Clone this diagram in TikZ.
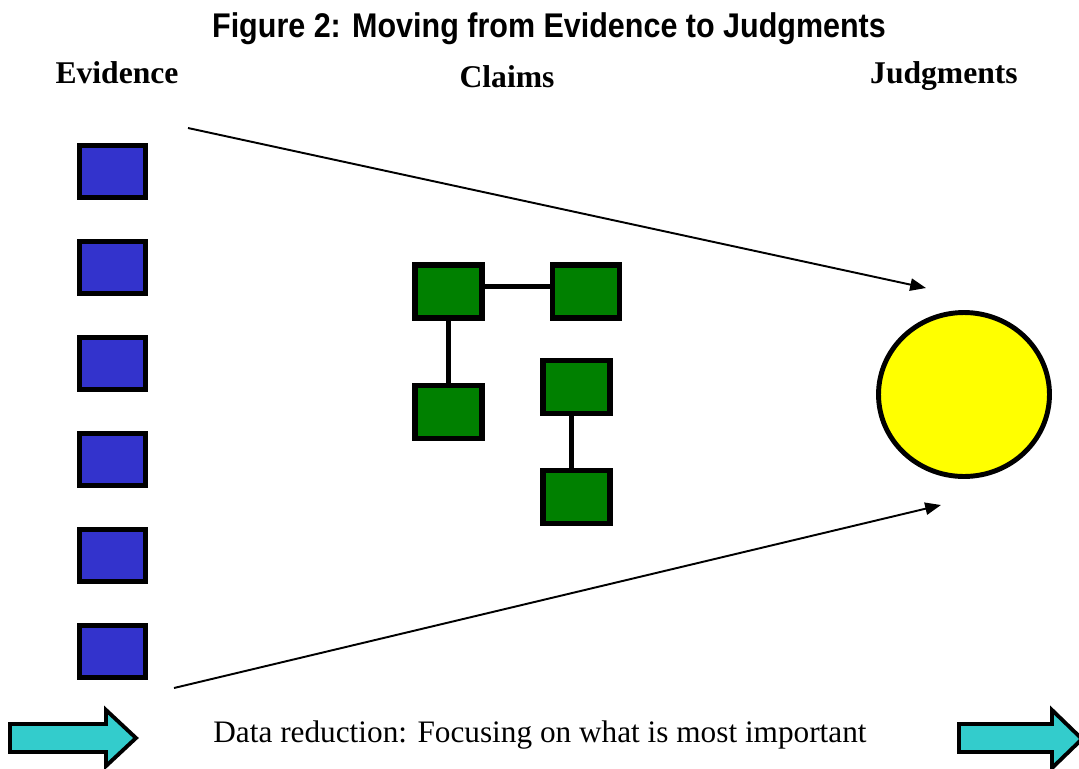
\documentclass[tikz,border=0pt]{standalone}
\usepackage{fontspec}
\setmainfont{Liberation Serif}
\newfontfamily\titlefont[FakeStretch=0.89]{Liberation Sans}
\usetikzlibrary{arrows.meta,shapes.geometric}
\definecolor{evblue}{RGB}{51,51,204}
\definecolor{claimgreen}{RGB}{0,128,0}
\definecolor{judgyellow}{RGB}{255,255,0}
\definecolor{flowteal}{RGB}{51,204,204}

\begin{document}
\begin{tikzpicture}[x=0.02cm,y=-0.02cm,
    evbox/.style={draw,line width=3pt,fill=evblue,minimum width=1.32cm,minimum height=1.04cm,inner sep=0pt},
    claimbox/.style={draw,line width=3pt,fill=claimgreen,minimum width=1.34cm,minimum height=1.06cm,inner sep=0pt},
    claimlink/.style={line width=2.4pt},
    link/.style={line width=1.1pt,-{Triangle[length=9pt,width=7pt]}},
    flow/.style={draw,line width=2.2pt,fill=flowteal,line join=miter},
    head/.style={font=\bfseries\fontsize{18}{22}\selectfont,anchor=base}]
  \useasboundingbox (0,0) rectangle (1079,768);
  \node[font=\titlefont\bfseries\fontsize{19.5}{23}\selectfont,anchor=base] (title) at (549,37.5) {Figure 2: Moving from Evidence to Judgments};
  \node[head] (evidence) at (117,83) {Evidence};
  \node[head] (claims) at (507,87) {Claims};
  \node[head] (judgments) at (944,83) {Judgments};
  \node[evbox] (e1) at (112.5,171.5) {};
  \node[evbox] (e2) at (112.5,267.5) {};
  \node[evbox] (e3) at (112.5,363.5) {};
  \node[evbox] (e4) at (112.5,459.5) {};
  \node[evbox] (e5) at (112.5,555.5) {};
  \node[evbox] (e6) at (112.5,651.5) {};
  \node[claimbox] (c1) at (448.5,291.5) {};
  \node[claimbox] (c2) at (586,291.5) {};
  \node[claimbox] (c3) at (448.5,412) {};
  \node[claimbox] (c4) at (576.5,387) {};
  \node[claimbox] (c5) at (576.5,497) {};
  \draw[claimlink] ([yshift=0.1cm]c1.east) -- ([yshift=0.1cm]c2.west);
  \draw[claimlink] (c1) -- (c3);
  \draw[claimlink] ([xshift=-0.1cm]c4.south) -- ([xshift=-0.1cm]c5.north);
  \node[ellipse,draw,line width=2.8pt,fill=judgyellow,minimum width=3.42cm,minimum height=3.28cm] (judgment) at (964,394.5) {};
  \coordinate (topstart) at (188,128);
  \coordinate (toptip) at (926,288);
  \coordinate (botstart) at (174,688);
  \coordinate (bottip) at (941,505);
  \draw[link] (topstart) -- (toptip);
  \draw[link] (botstart) -- (bottip);
  \draw[flow] (10,724) -- (106,724) -- (106,710) -- (136,738) -- (106,766) -- (106,752) -- (10,752) -- cycle;
  \draw[flow] (959,724) -- (1052,724) -- (1052,710) -- (1082,739) -- (1052,768) -- (1052,752) -- (959,752) -- cycle;
  \node[font=\fontsize{17.8}{22}\selectfont,anchor=base] (reduction) at (540,742) {Data reduction: Focusing on what is most important};
\end{tikzpicture}
\end{document}
